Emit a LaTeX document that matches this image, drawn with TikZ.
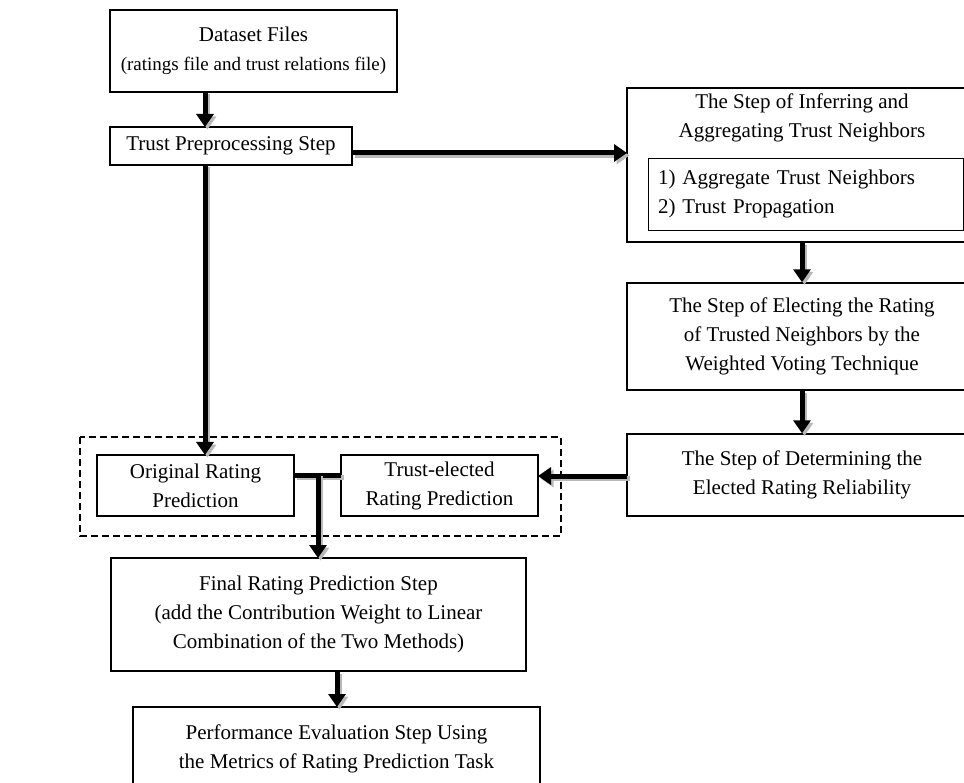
\documentclass[tikz,border=0pt]{standalone}
\usepackage{fontspec}
\setmainfont{Liberation Serif}
\usetikzlibrary{arrows.meta}
\tikzset{
  box/.style={draw=black, line width=1.4pt, inner sep=0pt, align=center, font=\fontsize{21}{29}\selectfont},
  txt/.style={inner sep=0pt, align=center, font=\fontsize{21}{29}\selectfont},
  arr/.style={line width=5pt, -{Triangle[length=13pt,width=17pt]},
     preaction={draw=gray!55, line width=5pt, -{Triangle[length=13pt,width=17pt]}, transform canvas={shift={(2.5pt,-2.5pt)}}}},
  lin/.style={line width=5pt,
     preaction={draw=gray!55, line width=5pt, transform canvas={shift={(2.5pt,-2.5pt)}}}},
}
\begin{document}
\begin{tikzpicture}[x=1pt,y=-1pt]
\useasboundingbox (0,0) rectangle (964,783);
\clip (0,0) rectangle (964,783);
\fill[white] (0,0) rectangle (964,783);
% boxes
\node[box, minimum width=287pt, minimum height=82pt] (ds) at (253.5,51) {Dataset Files\\{\fontsize{19}{29}\selectfont (ratings file and trust relations file)}};
\node[box, minimum width=242pt, minimum height=38pt] (pre) at (231,146) {Trust Preprocessing Step};
\node[box, minimum width=350pt, minimum height=154pt] (inf) at (802,165) {};
\node[txt] (inftitle) at (802,118) {The Step of Inferring and\\Aggregating Trust Neighbors};
\node[box, line width=0.9pt, minimum width=315pt, minimum height=72pt, text width=295pt, align=left] (inner) at (805.5,194) {1) Aggregate Trust Neighbors\\2) Trust Propagation};
\node[box, minimum width=350pt, minimum height=107pt] (ele) at (802,336.5) {The Step of Electing the Rating\\of Trusted Neighbors by the\\Weighted Voting Technique};
\node[box, minimum width=350pt, minimum height=82pt] (det) at (802,475) {The Step of Determining the\\Elected Rating Reliability};
\draw[line width=1.2pt, dashed, dash pattern=on 7pt off 4pt] (80,437) rectangle (561,536);
\node[box, minimum width=197pt, minimum height=61pt] (orig) at (195.5,485.5) {Original Rating\\Prediction};
\node[box, minimum width=197pt, minimum height=61pt] (te) at (439.5,485.5) {Trust-elected\\Rating Prediction};
\node[box, minimum width=415pt, minimum height=113pt] (fin) at (318.5,614.5) {Final Rating Prediction Step\\(add the Contribution Weight to Linear\\Combination of the Two Methods)};
\node[box, minimum width=407pt, minimum height=84pt] (perf) at (336.5,749) {Performance Evaluation Step Using\\the Metrics of Rating Prediction Task};
% connectors
\coordinate (a1s) at (205,92);
\coordinate (a1e) at (205,127);
\draw[arr] (a1s) -- (a1e);
\coordinate (a2s) at (352,153);
\coordinate (a2e) at (627,153);
\draw[arr] (a2s) -- (a2e);
\coordinate (a3s) at (205,165);
\coordinate (a3e) at (205,455);
\draw[arr] (a3s) -- (a3e);
\draw[arr] (inf.south) -- (ele.north);
\draw[arr] (ele.south) -- (det.north);
\coordinate (a6s) at (627,476);
\coordinate (a6e) at (538,476);
\draw[arr] (a6s) -- (a6e);
\coordinate (j1) at (294,475);
\coordinate (j2) at (341,475);
\draw[lin] (j1) -- (j2);
\coordinate (a7s) at (318,473);
\coordinate (a7e) at (318,558);
\draw[arr] (a7s) -- (a7e);
\coordinate (a8s) at (337,671);
\coordinate (a8e) at (337,707);
\draw[arr] (a8s) -- (a8e);
\end{tikzpicture}
\end{document}
